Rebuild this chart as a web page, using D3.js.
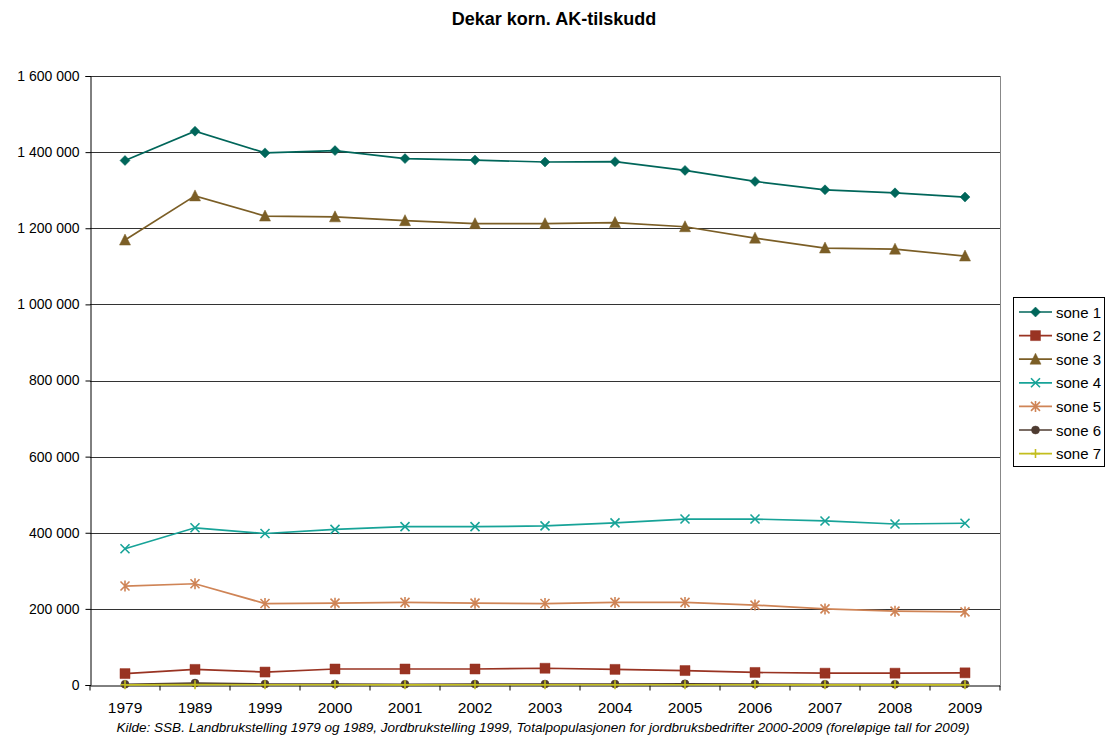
<!DOCTYPE html>
<html><head><meta charset="utf-8">
<script src="https://cdn.jsdelivr.net/npm/d3@7"></script>
<style>body{margin:0;background:#fff}svg{display:block;font-family:"Liberation Sans",Arial,sans-serif}</style>
</head><body>
<svg id="c" width="1109" height="742"></svg>
<script>
const title = "Dekar korn. AK-tilskudd";
const source = "Kilde: SSB. Landbrukstelling 1979 og 1989, Jordbrukstelling 1999, Totalpopulasjonen for jordbruksbedrifter 2000-2009 (foreløpige tall for 2009)";
const years = ["1979","1989","1999","2000","2001","2002","2003","2004","2005","2006","2007","2008","2009"];
const yTicks = [0,200000,400000,600000,800000,1000000,1200000,1400000,1600000];
const seriesNames = ["sone 1","sone 2","sone 3","sone 4","sone 5","sone 6","sone 7"];
const sone1 = [1378000,1455000,1398000,1404000,1383000,1379000,1374000,1375000,1352000,1323000,1301000,1293000,1282000];
const sone2 = [30000,41000,34000,42000,42000,42000,44000,41000,38000,33000,31000,31000,32000];
const sone3 = [1169000,1285000,1232000,1230000,1220000,1212000,1212000,1215000,1204000,1174000,1148000,1145000,1127000];
const sone4 = [358000,413000,398000,409000,416000,416000,418000,426000,436000,436000,431000,423000,425000];
const sone5 = [260000,266000,214000,215000,217000,215000,214000,217000,217000,210000,200000,194000,192000];
const sone6 = [2000,5000,2500,2500,2000,2500,2500,2500,3000,2500,2000,2000,2000];
const sone7 = [500,800,600,600,500,600,600,600,700,600,500,500,500];
const colors = ["#00665A","#993322","#7B5E26","#17A398","#CF8456","#4E3B31","#C3BE1E"];
const markers = ["diamond","square","triangle","x","star","circle","plus"];

const allSeries = [sone1,sone2,sone3,sone4,sone5,sone6,sone7];
const svg = d3.select("#c");
const L=90,R=1000,T=76,B=685;
const x = d3.scaleBand().domain(years).range([L,R]).padding(0);
const y = d3.scaleLinear().domain([0,1600000]).range([B,T]);
const fmt = d3.formatLocale({decimal:",",thousands:" ",grouping:[3],currency:["",""]}).format(",d");
const cx = d => x(d)+x.bandwidth()/2;

function markerPath(type,s){
  const h=s/2;
  switch(type){
    case "diamond": return `M0,${-h-0.5}L${h+0.5},0L0,${h+0.5}L${-h-0.5},0Z`;
    case "square": return `M${-h},${-h}H${h}V${h}H${-h}Z`;
    case "triangle": return `M0,${-h-1}L${h+0.5},${h}L${-h-0.5},${h}Z`;
    case "x": return `M${-h},${-h}L${h},${h}M${-h},${h}L${h},${-h}`;
    case "star": return `M${-h},${-h}L${h},${h}M${-h},${h}L${h},${-h}M0,${-h-1}V${h+1}`;
    case "plus": return `M${-h},0H${h}M0,${-h}V${h}`;
    case "circle": { const p=d3.path(); p.arc(0,0,h,0,2*Math.PI); return p.toString(); }
  }
}
function drawMarker(g,type,col,px,py){
  const stroked = (type==="x"||type==="star"||type==="plus");
  const size = {diamond:9,square:10,triangle:10,x:9,star:9,circle:8,plus:9}[type];
  g.append("path").attr("d",markerPath(type,size)).attr("transform",`translate(${px},${py})`)
    .attr("fill",stroked?"none":col).attr("stroke",col).attr("stroke-width",stroked?1.6:0.5);
}

// gridlines
svg.append("g").selectAll("line").data(yTicks.filter(v=>v>0)).join("line")
  .attr("x1",L).attr("x2",R).attr("y1",d=>Math.round(y(d))+0.5).attr("y2",d=>Math.round(y(d))+0.5)
  .attr("stroke","#333").attr("stroke-width",1);
// right border
svg.append("line").attr("x1",R+0.5).attr("x2",R+0.5).attr("y1",T).attr("y2",B).attr("stroke","#888").attr("stroke-width",1);

// y axis
const ya = svg.append("g").attr("transform",`translate(${L+0.5},0)`)
  .call(d3.axisLeft(y).tickValues(yTicks).tickFormat(fmt).tickSize(5).tickPadding(6));
ya.select(".domain").attr("stroke","#000");
ya.selectAll(".tick line").attr("stroke","#000");
ya.selectAll("text").attr("font-size","14px").attr("fill","#000").attr("font-family","Liberation Sans, Arial, sans-serif");

// x axis
const xa = svg.append("g").attr("transform",`translate(0,${Math.round(B)+0.5})`)
  .call(d3.axisBottom(x).tickSize(0).tickPadding(16));
xa.select(".domain").attr("stroke","#000");
xa.selectAll("text").attr("font-size","15.5px").attr("fill","#000").attr("font-family","Liberation Sans, Arial, sans-serif");
xa.append("g").selectAll("line").data(years.concat(["end"])).join("line")
  .attr("x1",d=>d==="end"?R:x(d)).attr("x2",d=>d==="end"?R:x(d)).attr("y1",0).attr("y2",5).attr("stroke","#000");

const line = d3.line().x((d,i)=>cx(years[i])).y(d=>y(d));
allSeries.forEach((vals,si)=>{
  const g = svg.append("g");
  g.append("path").datum(vals).attr("d",line).attr("fill","none").attr("stroke",colors[si]).attr("stroke-width",1.7);
  vals.forEach((v,i)=>drawMarker(g,markers[si],colors[si],cx(years[i]),y(v)));
});

// legend
const lg = svg.append("g");
lg.append("rect").attr("x",1013.5).attr("y",297.5).attr("width",91).attr("height",169).attr("fill","#fff").attr("stroke","#000");
seriesNames.forEach((n,i)=>{
  const yy = 312 + i*23.6;
  lg.append("line").attr("x1",1019).attr("x2",1052).attr("y1",yy).attr("y2",yy).attr("stroke",colors[i]).attr("stroke-width",1.7);
  drawMarker(lg,markers[i],colors[i],1035.5,yy);
  lg.append("text").attr("x",1056).attr("y",yy+5.5).attr("font-size","15px").text(n);
});

// title
svg.append("text").attr("x",554).attr("y",25).attr("text-anchor","middle").attr("font-size","18px").attr("font-weight","bold").text(title);
// source
svg.append("text").attr("x",543).attr("y",732).attr("text-anchor","middle").attr("font-size","13.5px").attr("font-style","italic").text(source);
</script>
</body></html>
